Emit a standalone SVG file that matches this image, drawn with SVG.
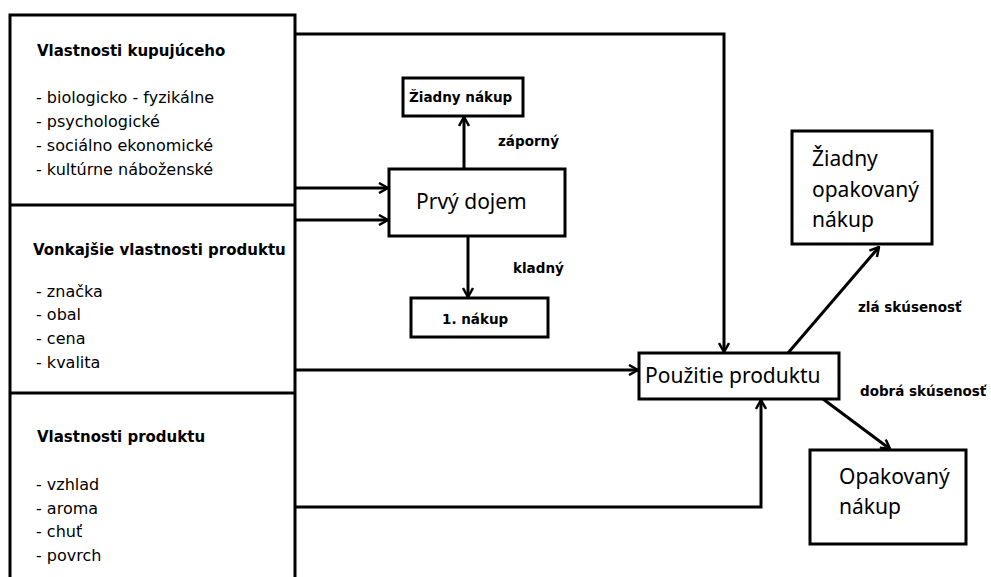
<svg xmlns="http://www.w3.org/2000/svg" width="991" height="577" viewBox="0 0 991 577">
<style>
.box{fill:#fff;stroke:#000;stroke-width:3}
.ln{fill:none;stroke:#000;stroke-width:3}
.t{font-family:"Noto Sans","Open Sans",sans-serif;fill:#000}
.h{font-family:"DejaVu Sans",sans-serif;font-size:15px;font-weight:bold}
.i{font-family:"DejaVu Sans",sans-serif;font-size:16px}
.b{font-size:21px}
.s{font-family:"DejaVu Sans",sans-serif;font-size:13.5px;font-weight:bold}
</style>
<defs>
<marker id="a" viewBox="0 0 12 12" refX="11" refY="6" markerWidth="12" markerHeight="12" markerUnits="userSpaceOnUse" orient="auto">
<path d="M2,1 L11,6 L2,11" fill="none" stroke="#000" stroke-width="2.5"/>
</marker>
</defs>
<rect width="991" height="577" fill="#fff"/>
<g id="left-panel">
<path class="ln" d="M10,577 L10,15 L295,15 L295,577 M10,205 L295,205 M10,393 L295,393"/>
</g>
<g id="vlastnosti-kupujuceho" class="t">
<text x="37" y="56" class="h">Vlastnosti kupujúceho</text>
<text x="36" y="103" class="i">- biologicko - fyzikálne</text>
<text x="36" y="127" class="i">- psychologické</text>
<text x="36" y="151" class="i">- sociálno ekonomické</text>
<text x="36" y="175" class="i">- kultúrne náboženské</text>
</g>
<g id="vonkajsie-vlastnosti" class="t">
<text x="33" y="255" class="h">Vonkajšie vlastnosti produktu</text>
<text x="36" y="297" class="i">- značka</text>
<text x="36" y="320" class="i">- obal</text>
<text x="36" y="344" class="i">- cena</text>
<text x="36" y="368" class="i">- kvalita</text>
</g>
<g id="vlastnosti-produktu" class="t">
<text x="37" y="442" class="h">Vlastnosti produktu</text>
<text x="36" y="490" class="i">- vzhlad</text>
<text x="36" y="514" class="i">- aroma</text>
<text x="36" y="537" class="i">- chuť</text>
<text x="36" y="561" class="i">- povrch</text>
</g>
<g id="zadny-nakup">
<rect class="box" x="403" y="78" width="120" height="38"/>
<text class="t s" x="409" y="102">Žiadny nákup</text>
</g>
<g id="prvy-dojem">
<rect class="box" x="389" y="169" width="176" height="67"/>
<text class="t b" x="416" y="209">Prvý dojem</text>
</g>
<g id="prvy-nakup">
<rect class="box" x="411" y="298" width="137" height="39"/>
<text class="t s" x="442" y="324">1. nákup</text>
</g>
<g id="pouzitie-produktu">
<rect class="box" x="639" y="353" width="200" height="46"/>
<text class="t b" x="645" y="383">Použitie produktu</text>
</g>
<g id="zadny-opakovany-nakup">
<rect class="box" x="792" y="131" width="140" height="113"/>
<text class="t b" x="812" y="166">Žiadny</text>
<text class="t b" x="812" y="197">opakovaný</text>
<text class="t b" x="812" y="227">nákup</text>
</g>
<g id="opakovany-nakup">
<rect class="box" x="810" y="450" width="156" height="94"/>
<text class="t b" x="839" y="484">Opakovaný</text>
<text class="t b" x="839" y="514">nákup</text>
</g>
<g id="connectors">
<path class="ln" d="M295,34 L724,34 L724,352" marker-end="url(#a)"/>
<path class="ln" d="M295,188 L388,188" marker-end="url(#a)"/>
<path class="ln" d="M295,220 L388,220" marker-end="url(#a)"/>
<path class="ln" d="M464,169 L464,117" marker-end="url(#a)"/>
<path class="ln" d="M468,236 L468,297" marker-end="url(#a)"/>
<path class="ln" d="M295,370 L638,370" marker-end="url(#a)"/>
<path class="ln" d="M295,507 L761,507 L761,400" marker-end="url(#a)"/>
<path class="ln" d="M788,353 L879,247" marker-end="url(#a)"/>
<path class="ln" d="M823,399 L890,449" marker-end="url(#a)"/>
</g>
<g id="labels" class="t">
<text class="s" x="498" y="146">záporný</text>
<text class="s" x="513" y="273">kladný</text>
<text class="s" x="858" y="312">zlá skúsenosť</text>
<text class="s" x="860" y="396">dobrá skúsenosť</text>
</g>
</svg>
